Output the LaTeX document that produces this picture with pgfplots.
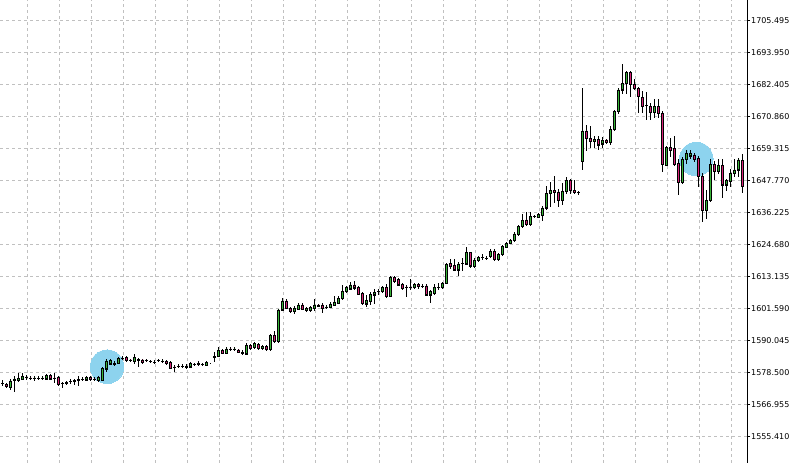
\documentclass[border=0pt]{standalone}
\usepackage{pgfplots}
\pgfplotsset{compat=1.18}
\usepackage{pgfplotstable}
\usepackage{fontspec}
\setmainfont{DejaVu Sans}
\definecolor{bull}{RGB}{55,180,55}
\definecolor{bear}{RGB}{215,35,120}
\definecolor{gridgrey}{RGB}{192,192,192}
\definecolor{marker}{RGB}{141,211,238}

% index, open, high, low, close
\pgfplotstableread{
x o h l c
0 1574.60 1575.51 1573.70 1574.78
1 1574.42 1574.78 1572.98 1573.52
2 1573.16 1575.87 1572.26 1575.51
3 1575.87 1576.95 1571.72 1576.23
4 1575.76 1578.03 1575.26 1576.48
5 1576.12 1578.03 1575.87 1577.06
6 1576.77 1577.31 1576.05 1576.70
7 1576.59 1577.13 1575.87 1576.41
8 1576.41 1577.13 1575.69 1576.59
9 1576.41 1576.95 1575.87 1576.34
10 1576.41 1576.95 1576.05 1576.59
11 1576.23 1577.67 1575.87 1577.42
12 1577.42 1577.85 1575.87 1576.23
13 1576.59 1578.14 1575.03 1576.34
14 1576.84 1577.13 1574.06 1574.31
15 1574.78 1575.14 1573.09 1574.60
16 1574.53 1575.33 1574.24 1575.03
17 1575.33 1575.87 1574.78 1575.26
18 1575.51 1576.05 1574.31 1575.62
19 1575.76 1576.95 1574.06 1575.98
20 1576.05 1576.77 1575.51 1576.16
21 1575.87 1577.13 1575.51 1576.84
22 1576.84 1577.13 1575.69 1575.98
23 1576.23 1576.77 1575.69 1576.12
24 1575.62 1576.95 1575.33 1576.70
25 1575.76 1580.38 1575.51 1580.09
26 1579.84 1583.08 1578.86 1582.72
27 1581.64 1583.08 1581.28 1582.83
28 1581.64 1582.36 1581.10 1581.75
29 1581.89 1583.98 1581.64 1583.69
30 1583.69 1584.17 1583.26 1583.80
31 1584.06 1584.42 1582.47 1582.83
32 1583.08 1583.44 1582.54 1582.97
33 1582.47 1584.89 1581.89 1583.91
34 1583.26 1583.62 1580.67 1583.08
35 1583.08 1583.44 1581.82 1582.25
36 1582.90 1583.26 1582.36 1582.79
37 1582.54 1582.90 1582.00 1582.43
38 1582.18 1582.72 1581.82 1582.29
39 1582.90 1583.26 1582.36 1582.79
40 1582.54 1583.08 1582.18 1582.72
41 1582.61 1582.90 1581.46 1581.75
42 1582.11 1582.36 1579.84 1580.09
43 1580.56 1580.92 1579.11 1580.45
44 1580.74 1581.28 1580.38 1580.85
45 1580.85 1581.28 1580.38 1580.74
46 1580.56 1581.53 1580.09 1580.63
47 1580.56 1582.00 1580.38 1581.75
48 1581.46 1581.82 1581.10 1581.57
49 1581.64 1582.47 1581.03 1581.82
50 1581.46 1581.82 1580.92 1581.35
51 1581.03 1582.36 1580.92 1582.11
52 1581.75 1581.82 1581.64 1581.75
53 1584.17 1585.86 1582.47 1584.35
54 1584.28 1587.52 1584.17 1586.69
55 1586.58 1586.87 1585.25 1585.50
56 1585.50 1587.41 1585.25 1587.05
57 1587.05 1587.52 1586.33 1586.98
58 1586.98 1587.66 1586.33 1587.05
59 1586.69 1586.87 1585.61 1585.86
60 1585.71 1586.33 1585.14 1585.61
61 1585.25 1589.10 1585.14 1588.49
62 1588.49 1588.85 1586.69 1587.30
63 1587.66 1589.46 1587.30 1588.96
64 1588.85 1589.03 1586.87 1587.16
65 1587.16 1588.31 1586.87 1588.02
66 1588.02 1588.31 1586.51 1586.80
67 1586.80 1592.10 1586.58 1591.85
68 1591.85 1593.54 1589.46 1589.68
69 1589.68 1601.30 1589.46 1601.12
70 1601.12 1605.34 1600.76 1604.37
71 1604.37 1604.73 1601.49 1601.74
72 1601.74 1602.03 1600.22 1600.51
73 1600.51 1602.21 1599.93 1601.74
74 1601.38 1603.29 1601.12 1602.93
75 1602.93 1603.29 1601.12 1601.38
76 1600.87 1602.03 1600.58 1601.74
77 1600.87 1602.39 1600.58 1601.96
78 1601.74 1604.98 1600.87 1602.93
79 1602.93 1603.11 1602.21 1602.57
80 1602.93 1603.29 1600.04 1601.74
81 1602.10 1602.75 1601.67 1602.21
82 1602.10 1603.65 1601.85 1603.29
83 1602.82 1605.81 1602.57 1604.01
84 1603.54 1605.92 1603.29 1605.34
85 1605.34 1609.88 1604.73 1607.73
86 1607.73 1609.60 1607.44 1609.24
87 1608.70 1611.11 1608.34 1610.14
88 1610.14 1611.33 1608.34 1609.06
89 1609.31 1609.60 1606.71 1606.89
90 1607.14 1607.44 1603.18 1603.54
91 1603.29 1606.28 1602.32 1604.48
92 1604.12 1607.51 1603.18 1606.89
93 1606.53 1608.34 1603.54 1607.51
94 1607.80 1608.34 1606.53 1607.69
95 1607.73 1609.60 1607.44 1609.31
96 1609.31 1610.14 1605.70 1606.06
97 1606.06 1613.21 1605.81 1612.92
98 1612.92 1613.21 1611.04 1611.33
99 1612.30 1612.49 1609.88 1610.14
100 1610.39 1610.68 1608.34 1608.95
101 1609.42 1609.78 1605.92 1609.24
102 1609.24 1612.30 1608.34 1609.35
103 1609.17 1610.68 1608.88 1610.39
104 1610.39 1610.68 1608.70 1609.53
105 1609.60 1610.14 1609.06 1609.49
106 1609.78 1610.14 1606.17 1606.53
107 1606.53 1608.16 1603.76 1607.73
108 1607.15 1610.14 1606.78 1609.17
109 1609.24 1610.75 1608.34 1609.35
110 1609.17 1611.11 1608.70 1610.75
111 1610.75 1617.97 1610.50 1617.61
112 1617.97 1619.16 1616.16 1616.74
113 1617.10 1619.41 1615.30 1615.55
114 1615.55 1618.08 1613.49 1617.72
115 1617.90 1619.77 1615.30 1618.01
116 1617.72 1623.74 1617.36 1621.79
117 1621.79 1622.04 1616.53 1617.00
118 1616.74 1619.52 1616.45 1619.16
119 1618.91 1620.42 1618.62 1620.13
120 1620.06 1621.32 1619.41 1619.95
121 1619.70 1620.24 1619.16 1619.81
122 1620.35 1622.77 1620.06 1622.40
123 1622.40 1622.77 1618.98 1619.41
124 1619.41 1621.68 1618.98 1621.32
125 1621.32 1624.39 1620.96 1623.96
126 1623.74 1625.47 1623.49 1625.18
127 1625.18 1626.73 1624.93 1626.37
128 1626.37 1628.90 1626.01 1628.54
129 1628.36 1631.78 1627.99 1631.42
130 1631.17 1635.75 1630.95 1633.41
131 1633.59 1636.29 1631.78 1632.04
132 1632.04 1636.29 1631.78 1634.96
133 1634.85 1635.39 1634.31 1634.74
134 1634.56 1635.93 1634.31 1635.64
135 1635.21 1638.28 1633.33 1637.92
136 1637.92 1645.85 1637.45 1643.22
137 1643.22 1647.04 1638.39 1644.23
138 1644.30 1649.46 1639.90 1643.44
139 1643.69 1644.66 1638.39 1640.70
140 1640.55 1646.58 1639.36 1643.87
141 1643.80 1648.85 1643.22 1647.91
142 1647.91 1648.27 1642.97 1644.30
143 1644.30 1647.66 1642.97 1643.44
144 1643.51 1644.05 1642.86 1643.40
145 1654.62 1681.10 1651.88 1665.70
146 1665.70 1667.86 1658.84 1663.06
147 1663.06 1667.50 1659.67 1661.84
148 1661.84 1663.89 1659.82 1662.70
149 1662.70 1663.64 1659.09 1660.65
150 1661.01 1663.28 1659.82 1662.45
151 1662.45 1662.81 1661.19 1661.55
152 1661.55 1667.25 1660.65 1666.35
153 1666.31 1673.27 1665.70 1672.73
154 1672.66 1681.10 1672.08 1680.49
155 1680.49 1689.51 1679.30 1682.91
156 1682.91 1687.16 1679.30 1686.80
157 1686.80 1687.16 1678.32 1682.65
158 1682.65 1684.10 1680.49 1681.10
159 1681.10 1681.46 1672.30 1678.04
160 1677.86 1679.77 1672.30 1674.46
161 1674.90 1679.52 1669.92 1674.79
162 1674.54 1675.69 1669.92 1672.30
163 1672.30 1677.13 1670.64 1674.54
164 1674.54 1677.13 1670.64 1672.01
165 1672.08 1672.66 1651.01 1653.61
166 1653.43 1660.03 1653.07 1659.82
167 1659.82 1663.06 1656.43 1658.59
168 1659.46 1663.64 1653.07 1653.79
169 1654.04 1655.24 1642.61 1647.04
170 1647.04 1656.21 1646.83 1655.49
171 1655.49 1658.84 1654.04 1657.65
172 1656.68 1658.84 1655.85 1657.65
173 1657.04 1657.65 1654.62 1655.49
174 1655.85 1656.43 1645.85 1649.46
175 1649.21 1650.43 1632.98 1636.94
176 1636.94 1644.41 1634.20 1640.80
177 1640.80 1655.24 1640.19 1653.79
178 1653.79 1654.62 1648.27 1651.01
179 1651.01 1655.24 1650.43 1653.43
180 1653.43 1655.24 1641.78 1646.22
181 1646.22 1648.27 1644.41 1647.77
182 1647.41 1651.63 1645.85 1650.43
183 1650.43 1655.24 1649.21 1651.63
184 1651.63 1655.85 1649.21 1655.24
185 1654.98 1657.04 1643.44 1645.60
}\candles

\pgfplotsset{
  chartbase/.style={
    width=747bp, height=463bp, scale only axis,
    at={(0,0)}, anchor=south west,
    xmin=-0.67, xmax=186.08,
    ymin=1545.92, ymax=1712.96,
  },
}

\begin{document}
\begin{tikzpicture}
% grid, price scale and highlight circles
\begin{axis}[
  chartbase,
  axis x line*=bottom, axis y line*=right,
  x axis line style={draw=none},
  y axis line style={black, line width=1bp},
  xtick={6.17,14.17,...,182.17}, xticklabels={},
  xtick style={draw=none},
  ytick={1555.410,1566.955,1578.500,1590.045,1601.590,1613.135,1624.680,1636.225,1647.770,1659.315,1670.860,1682.405,1693.950,1705.495},
  yticklabels={1555.410,1566.955,1578.500,1590.045,1601.590,1613.135,1624.680,1636.225,1647.770,1659.315,1670.860,1682.405,1693.950,1705.495},
  ytick style={black, line width=1bp},
  major tick length=3bp, tick align=outside,
  yticklabel style={font=\fontsize{8bp}{9bp}\selectfont, anchor=west, inner sep=0pt, xshift=1bp},
  grid=major,
  major grid style={gridgrey, line width=1bp, dash pattern=on 3bp off 3bp},
]
\addplot[only marks, color=marker, mark=*, mark size=16.8bp, mark options={fill=marker, draw=marker, line width=0pt}]
  coordinates {(26.1,1580.66) (173.4,1655.6)};
\end{axis}
% candlesticks: invisible base, lower wick, bull body, bear body, upper wick
\begin{axis}[chartbase, axis lines=none, ybar stacked, bar shift=0pt]
\addplot[forget plot, draw=none, fill=none, bar width=2.2bp]
  table[x=x, y=l]{\candles};
\addplot[draw=black, line width=1bp, bar width=0.01bp]
  table[x=x, y expr={min(\thisrow{o},\thisrow{c})-\thisrow{l}}]{\candles};
\addplot[draw=black, line width=0.9bp, fill=bull, bar width=2.2bp]
  table[x=x, y expr={max(\thisrow{c}-\thisrow{o},0)}]{\candles};
\addplot[draw=black, line width=0.9bp, fill=bear, bar width=2.2bp]
  table[x=x, y expr={max(\thisrow{o}-\thisrow{c},0)}]{\candles};
\addplot[draw=black, line width=1bp, bar width=0.01bp]
  table[x=x, y expr={\thisrow{h}-max(\thisrow{o},\thisrow{c})}]{\candles};
\end{axis}
\pgfresetboundingbox
\path[use as bounding box] (0,0) rectangle (800bp,463bp);
\end{tikzpicture}
\end{document}
